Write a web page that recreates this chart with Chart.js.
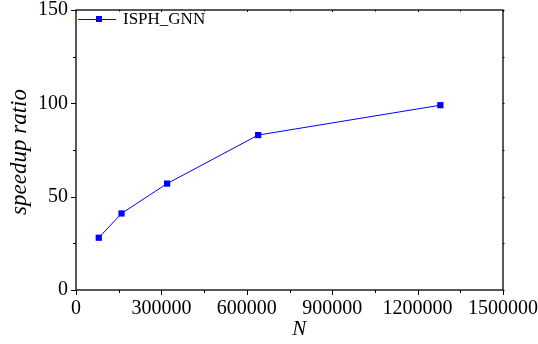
<!DOCTYPE html>
<html>
<head>
<meta charset="utf-8">
<script src="https://cdn.jsdelivr.net/npm/chart.js@4/dist/chart.umd.min.js"></script>
<style>
html,body{margin:0;padding:0;background:#fff;}
#wrap{position:relative;width:538px;height:344px;}
</style>
</head>
<body>
<div id="wrap"><canvas id="c" width="538" height="344"></canvas></div>
<script>
const nValues = [80000, 160000, 320000, 640000, 1280000];
const speedup = [28, 41, 57, 83, 99];
const seriesName = 'ISPH_GNN';
const xTitle = 'N';
const yTitle = 'speedup ratio';
const xTickValues = [0, 300000, 600000, 900000, 1200000, 1500000];
const yTickValues = [0, 50, 100, 150];

const FONT = "'Liberation Serif', 'Times New Roman', serif";

const framePlugin = {
  id: 'frame',
  afterDraw(chart) {
    const ctx = chart.ctx, a = chart.chartArea;
    const xs = chart.scales.x, ys = chart.scales.y;
    ctx.save();
    ctx.strokeStyle = '#000';
    ctx.lineWidth = 1.3;
    ctx.strokeRect(a.left, a.top, a.right - a.left, a.bottom - a.top);
    ctx.lineWidth = 1;
    ctx.beginPath();
    for (let v = 0; v <= 1500000; v += 150000) {
      const px = Math.round(xs.getPixelForValue(v)) + 0.5;
      const major = v % 300000 === 0;
      ctx.moveTo(px, a.bottom); ctx.lineTo(px, a.bottom + (major ? 5 : 3));
      ctx.moveTo(px, a.top); ctx.lineTo(px, a.top + (major ? 2 : 1.5));
    }
    for (let v = 0; v <= 150; v += 25) {
      const py = Math.round(ys.getPixelForValue(v)) + 0.5;
      const major = v % 50 === 0;
      ctx.moveTo(a.left, py); ctx.lineTo(a.left - (major ? 5 : 3), py);
      ctx.moveTo(a.right, py); ctx.lineTo(a.right + 1.5, py);
    }
    ctx.stroke();
    // axis titles
    ctx.fillStyle = '#000';
    ctx.textAlign = 'center';
    ctx.textBaseline = 'alphabetic';
    ctx.font = "italic 21px " + FONT;
    ctx.fillText(xTitle, a.left + (a.right - a.left) * 0.523, 335);
    ctx.font = "italic 23px " + FONT;
    ctx.save();
    ctx.translate(26, 152);
    ctx.rotate(-Math.PI / 2);
    ctx.fillText(yTitle, 0, 0);
    ctx.restore();
    // legend
    const ds = chart.data.datasets[0];
    const ly = a.top + 9;
    ctx.strokeStyle = ds.borderColor;
    ctx.lineWidth = 1;
    ctx.beginPath();
    ctx.moveTo(a.left + 2, ly + 0.5); ctx.lineTo(a.left + 40, ly + 0.5);
    ctx.stroke();
    ctx.fillStyle = ds.pointBackgroundColor;
    ctx.fillRect(a.left + 20, ly - 3, 6, 6);
    ctx.fillStyle = '#000';
    ctx.font = "17px " + FONT;
    ctx.textBaseline = 'middle';
    ctx.textAlign = 'left';
    ctx.fillText(ds.label, a.left + 47, ly + 1);
    ctx.restore();
  }
};

new Chart(document.getElementById('c'), {
  type: 'line',
  data: {
    datasets: [{
      label: seriesName,
      data: nValues.map((n, i) => ({x: n, y: speedup[i]})),
      borderColor: '#0000ff',
      backgroundColor: '#0000ff',
      pointBackgroundColor: '#0000ff',
      pointBorderColor: '#0000ff',
      borderWidth: 1,
      pointStyle: 'rect',
      pointRadius: 4.4,
      pointBorderWidth: 0,
      tension: 0
    }]
  },
  plugins: [framePlugin],
  options: {
    responsive: false,
    animation: false,
    events: [],
    layout: {padding: {left: 0, top: 10, right: 35, bottom: 0}},
    plugins: {legend: {display: false}, tooltip: {enabled: false}},
    scales: {
      x: {
        type: 'linear', min: 0, max: 1500000,
        afterBuildTicks: s => { s.ticks = xTickValues.map(v => ({value: v})); },
        afterFit: s => { s.height = 54; s.paddingLeft = 0; s.paddingRight = 0; },
        grid: {display: false, drawTicks: false},
        border: {display: false},
        ticks: {color: '#000', font: {family: FONT, size: 20}, padding: 7, maxRotation: 0, autoSkip: false,
                callback: v => String(v)},
        title: {display: false}
      },
      y: {
        type: 'linear', min: 0, max: 150,
        afterBuildTicks: s => { s.ticks = yTickValues.map(v => ({value: v})); },
        afterFit: s => { s.width = 76; s.paddingTop = 0; s.paddingBottom = 0; },
        grid: {display: false, drawTicks: false},
        border: {display: false},
        ticks: {color: '#000', font: {family: FONT, size: 20}, padding: 8},
        title: {display: false}
      }
    }
  }
});
</script>
</body>
</html>
